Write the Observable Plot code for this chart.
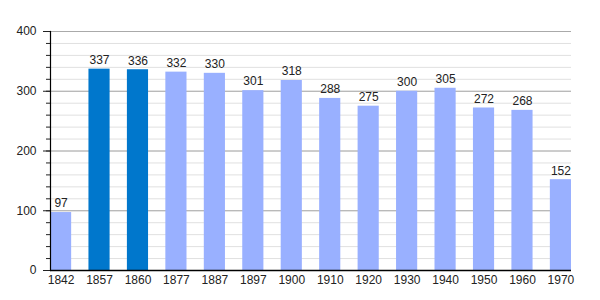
<!DOCTYPE html>
<html>
<head>
<meta charset="utf-8">
<script src="https://cdn.jsdelivr.net/npm/d3@7"></script>
<script src="https://cdn.jsdelivr.net/npm/@observablehq/plot@0.6"></script>
<style>
  body { margin: 0; background: #fff; }
  svg { font-family: "Liberation Sans", Arial, sans-serif; }
</style>
</head>
<body>
<div id="chart"></div>
<script>
const years = ["1842","1857","1860","1877","1887","1897","1900","1910","1920","1930","1940","1950","1960","1970"];
const population = [97,337,336,332,330,301,318,288,275,300,305,272,268,152];
const highlighted = ["1857","1860"];
const majorTicks = [0,100,200,300,400];
const minorTicks = d3.range(0, 401, 20);

const data = years.map((y, i) => ({year: y, value: population[i], hi: highlighted.includes(y)}));

const chart = Plot.plot({
  width: 600,
  height: 300,
  marginLeft: 50,
  marginRight: 29,
  marginTop: 31,
  marginBottom: 30,
  style: {fontSize: "12px", fontFamily: "'Liberation Sans', Arial, sans-serif", color: "#222"},
  x: {domain: years, paddingInner: 0.45, paddingOuter: 0, round: false, label: null},
  y: {domain: [0, 400], label: null},
  marks: [
    Plot.ruleY(minorTicks, {stroke: "#e0e0e0", strokeWidth: 1}),
    Plot.ruleY(majorTicks.filter(d => d > 0), {stroke: "#aaaaaa", strokeWidth: 1}),
    Plot.barY(data, {x: "year", y: "value", fill: d => d.hi ? "#0077cc" : "#99b0ff"}),
    Plot.text(data, {x: "year", y: "value", text: d => String(d.value), dy: -9, fill: "#222", fontSize: 12}),
    Plot.axisY(minorTicks, {tickSize: 4, tickFormat: () => "", stroke: "#222"}),
    Plot.axisY(majorTicks, {tickSize: 7, tickPadding: 7, tickFormat: d => String(d), fill: "#222", fontSize: 12}),
    Plot.axisX({tickSize: 0, tickPadding: 5, fill: "#222", fontSize: 12}),
    Plot.ruleY([0], {stroke: "#000", strokeWidth: 1.5}),
    Plot.frame({anchor: "left", stroke: "#000", strokeWidth: 1.2})
  ]
});
document.getElementById("chart").appendChild(chart);
</script>
</body>
</html>
